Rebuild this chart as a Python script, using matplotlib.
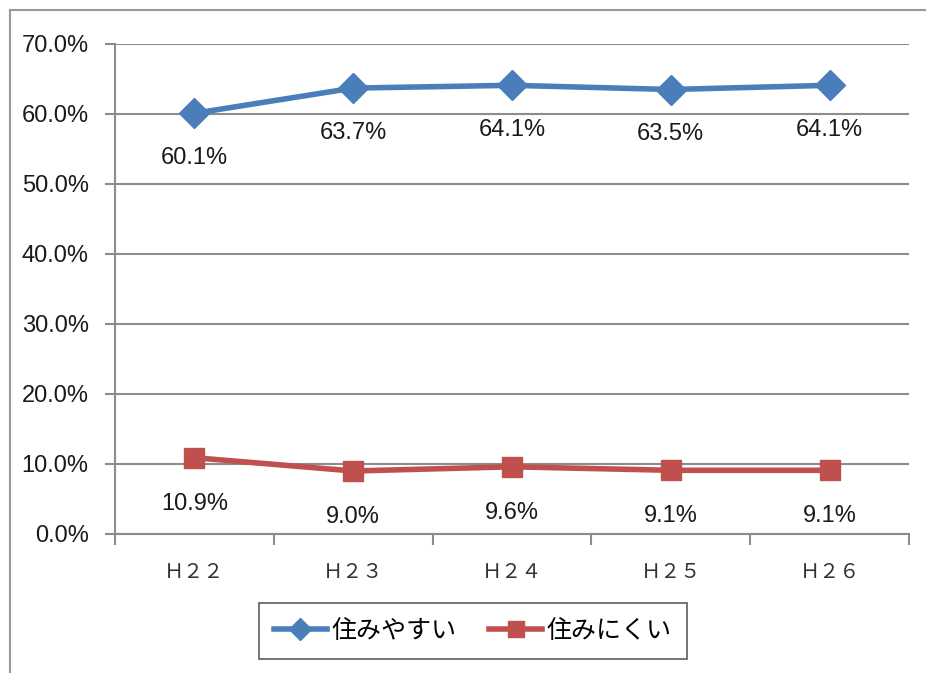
import matplotlib.pyplot as plt
from matplotlib.lines import Line2D
import numpy as np

plt.rcParams['font.family'] = ['Liberation Sans', 'Noto Sans CJK JP', 'DejaVu Sans']

years = ['Ｈ２２', 'Ｈ２３', 'Ｈ２４', 'Ｈ２５', 'Ｈ２６']
easy = [60.1, 63.7, 64.1, 63.5, 64.1]   # 住みやすい
hard = [10.9, 9.0, 9.6, 9.1, 9.1]       # 住みにくい

blue = '#4a7ebb'
red = '#c0504d'
grid_c = '#8c8c8c'
text_c = '#1a1a1a'

fig = plt.figure(figsize=(9.26, 6.73), dpi=100)
ax = fig.add_axes([115 / 926, 139 / 673, 794 / 926, 490 / 673])

x = np.arange(len(years))
ax.plot(x, easy, color=blue, lw=4, marker='D', ms=15, mfc=blue, mec=blue,
        label='住みやすい', zorder=3)
ax.plot(x, hard, color=red, lw=4, marker='s', ms=15, mfc=red, mec=red,
        label='住みにくい', zorder=3)

for xi, v in zip(x, easy):
    ax.annotate(f'{v:.1f}%', (xi, v), xytext=(0, -45), textcoords='offset pixels',
                ha='center', va='center', fontsize=17, color=text_c)
for xi, v in zip(x, hard):
    ax.annotate(f'{v:.1f}%', (xi, v), xytext=(0, -46), textcoords='offset pixels',
                ha='center', va='center', fontsize=17, color=text_c)

ax.set_xlim(-0.5, len(years) - 0.5)
ax.set_ylim(0, 70)
ax.set_yticks(np.arange(0, 71, 10))
ax.set_yticklabels([f'{t:.1f}%' for t in np.arange(0, 71, 10)], fontsize=17, color=text_c)
ax.yaxis.grid(True, color=grid_c, lw=1.5)
ax.set_axisbelow(True)

# category ticks sit between groups, labels under the groups
ax.set_xticks(np.arange(-0.5, len(years), 1))
ax.set_xticklabels([])
ax.set_xticks(x, minor=True)
ax.set_xticklabels(years, minor=True, fontsize=14.5, color='#333333',
                   family=['Noto Sans CJK JP', 'DejaVu Sans'])
ax.tick_params(axis='x', which='major', length=8, width=1.5, color=grid_c)
ax.tick_params(axis='x', which='minor', length=0, pad=20)
ax.tick_params(axis='y', length=7, width=1.5, color=grid_c, pad=12)

for side in ['top', 'right']:
    ax.spines[side].set_visible(False)
for side in ['left', 'bottom']:
    ax.spines[side].set_color(grid_c)
    ax.spines[side].set_linewidth(1.5)

leg = fig.legend(loc='center', bbox_to_anchor=(473 / 926, 1 - 631 / 673), ncol=2,
                 frameon=True, fancybox=False, edgecolor='#333333', markerscale=0.75,
                 handlelength=2.1, columnspacing=1.3, handletextpad=0.2,
                 borderpad=0.6, prop={'family': ['Noto Sans CJK JP', 'DejaVu Sans'], 'size': 18})
leg.get_frame().set_linewidth(1.2)

# outer chart border
fig.add_artist(Line2D([10 / 926, 10 / 926], [0, 1 - 10 / 673], color='#999999', lw=1.5))
fig.add_artist(Line2D([10 / 926, 1], [1 - 10 / 673, 1 - 10 / 673], color='#999999', lw=1.5))

fig.savefig('out.png', dpi=100)
